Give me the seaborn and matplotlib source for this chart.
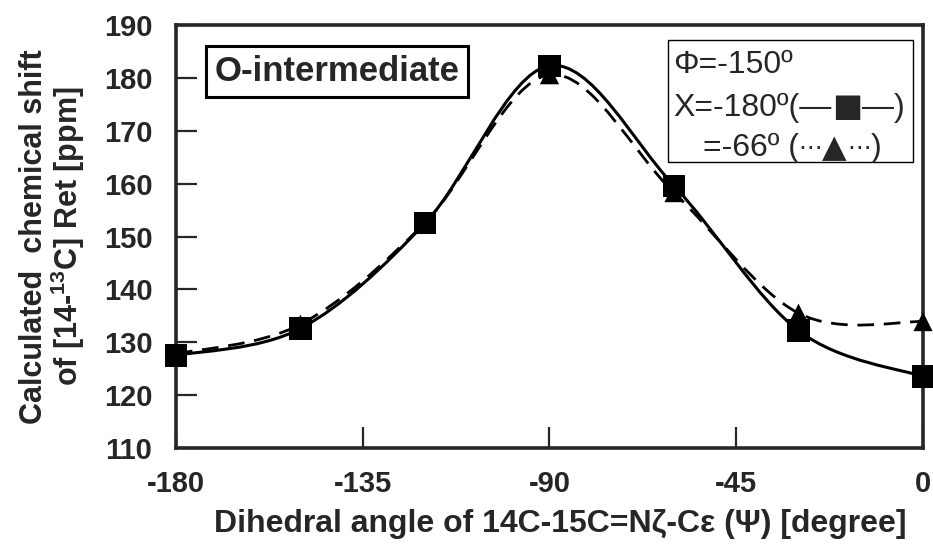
import numpy as np
import pandas as pd
import matplotlib
matplotlib.use("Agg")
import matplotlib.pyplot as plt
from matplotlib.path import Path
from matplotlib.patches import PathPatch, Rectangle
import seaborn as sns

# Data
psi = [-180, -150, -120, -90, -60, -30, 0]
shift_chi_180 = [127.5, 132.6, 152.5, 182.3, 159.6, 132.2, 123.5]   # squares, solid line
shift_chi_66 = [127.8, 133.4, 152.6, 180.6, 158.3, 135.5, 133.9]    # triangles, dashed line

x_ticks = [-180, -135, -90, -45, 0]
y_ticks = [110, 120, 130, 140, 150, 160, 170, 180, 190]

df = pd.DataFrame({
    "psi": psi * 2,
    "shift": shift_chi_66 + shift_chi_180,
    "series": ["-66"] * len(psi) + ["-180"] * len(psi),
})

sns.set_style("ticks")
plt.rcParams["font.family"] = ["Liberation Sans", "DejaVu Sans"]
plt.rcParams["axes.unicode_minus"] = False
plt.rcParams["mathtext.fontset"] = "custom"
plt.rcParams["mathtext.rm"] = "Liberation Sans:bold"
plt.rcParams["mathtext.bf"] = "Liberation Sans:bold"


def smooth_path(xs, ys):
    # Excel-style smoothed line as cubic Bezier segments
    pts = np.column_stack([xs, ys]).astype(float)
    n = len(pts)
    verts = [pts[0]]
    codes = [Path.MOVETO]
    for i in range(n - 1):
        p_prev = pts[i - 1] if i > 0 else pts[i]
        p_next = pts[i + 2] if i + 2 < n else pts[i + 1]
        c1 = pts[i] + (pts[i + 1] - p_prev) / 6.0
        c2 = pts[i + 1] - (p_next - pts[i]) / 6.0
        verts += [c1, c2, pts[i + 1]]
        codes += [Path.CURVE4] * 3
    return Path(verts, codes)


def chain(ax, x, y, pieces):
    # write text pieces one after another on the same line
    prev = None
    for s, fam, size in pieces:
        if prev is None:
            prev = ax.text(x, y, s, transform=ax.transAxes, fontsize=size, family=fam,
                           va="center", ha="left", zorder=5)
        else:
            prev = ax.annotate(s, xy=(1, 0.5), xycoords=prev, fontsize=size, family=fam,
                               va="center", ha="left", zorder=5)
    return prev


fig = plt.figure(figsize=(9.33, 5.44), dpi=100)
ax = fig.add_axes([0.1886, 0.1765, 0.8007, 0.7775])

ax.add_patch(PathPatch(smooth_path(psi, shift_chi_66), fill=False, edgecolor="black",
                       linewidth=2.0, linestyle=(0, (6, 3.5)), zorder=2))
ax.add_patch(PathPatch(smooth_path(psi, shift_chi_180), fill=False, edgecolor="black",
                       linewidth=2.2, zorder=2))

sns.scatterplot(data=df, x="psi", y="shift", style="series", size="series",
                markers={"-66": "^", "-180": "s"}, sizes={"-66": 190, "-180": 260},
                color="black", edgecolor="black", linewidth=0, legend=False,
                ax=ax, zorder=3, clip_on=False)

ax.set_xlim(-180, 0)
ax.set_ylim(110, 190)
ax.set_xticks(x_ticks)
ax.set_yticks(y_ticks)
ax.tick_params(direction="in", length=15, width=1.6, labelsize=21, pad=16)
ax.tick_params(axis="y", pad=17)
for lab in ax.get_xticklabels() + ax.get_yticklabels():
    lab.set_fontweight("bold")
for sp in ax.spines.values():
    sp.set_visible(True)
    sp.set_linewidth(2.6)

ax.set_xlabel("Dihedral angle of 14C-15C=Nζ-Cε (Ψ) [degree]", fontsize=23,
              fontweight="bold", labelpad=8)
ax.xaxis.set_label_coords(0.515, -0.145)
ax.set_ylabel("Calculated  chemical shift\nof [14-$^{13}$C] Ret [ppm]", fontsize=22,
              fontweight="bold", labelpad=12, linespacing=1.0)

ax.text(0.052, 0.89, "O-intermediate", transform=ax.transAxes, fontsize=25,
        fontweight="bold", va="center", ha="left",
        bbox=dict(boxstyle="square,pad=0.25", facecolor="white", edgecolor="black",
                  linewidth=2.2))

ax.add_patch(Rectangle((0.659, 0.676), 0.328, 0.289, transform=ax.transAxes,
                       facecolor="white", edgecolor="black", linewidth=1.0, zorder=4))
chain(ax, 0.666, 0.905, [("Φ=-150º", "Liberation Sans", 23)])
chain(ax, 0.666, 0.804, [("X=-180º(—", "Liberation Sans", 23),
                         ("■", "DejaVu Sans", 23),
                         ("—)", "Liberation Sans", 23)])
chain(ax, 0.705, 0.709, [("=-66º (", "Liberation Sans", 23),
                         ("⋯", "DejaVu Sans", 17),
                         ("▲", "DejaVu Sans", 23),
                         ("⋯", "DejaVu Sans", 17),
                         (")", "Liberation Sans", 23)])

fig.savefig("out.png", dpi=100)
